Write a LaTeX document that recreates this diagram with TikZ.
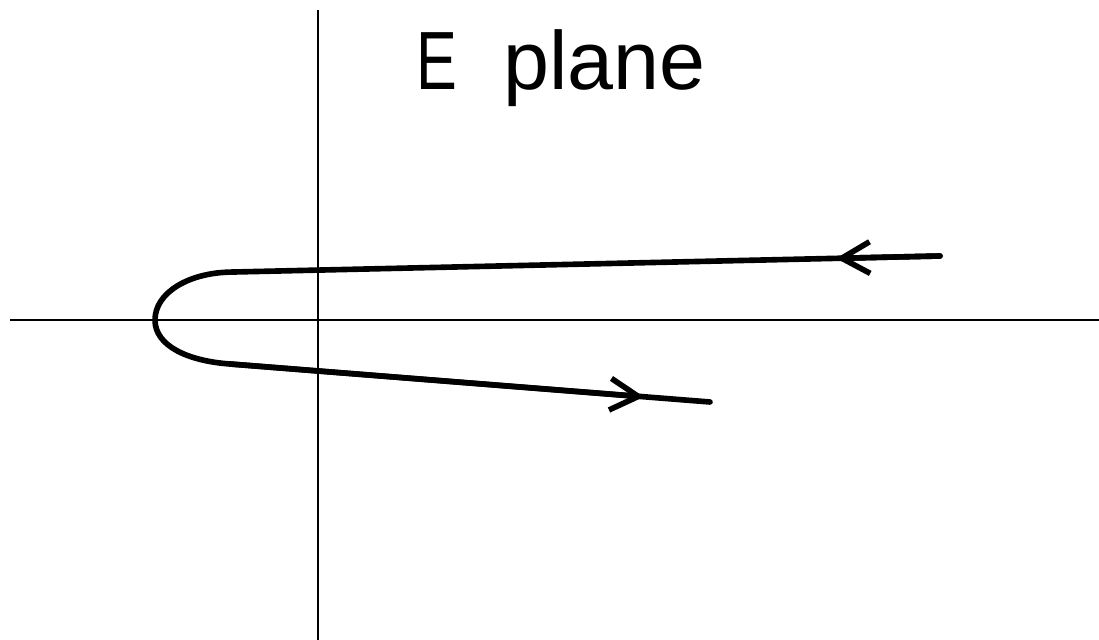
\documentclass[tikz,border=0pt]{standalone}
\usepackage{fontspec}
\setmainfont{Liberation Sans}
\usetikzlibrary{arrows.meta}
\tikzset{
  axis/.style={line width=0.6pt},
  contour/.style={line width=1.6pt, line cap=round, line join=round},
  barbtip/.style={-{Straight Barb[length=8pt,width=9pt,line width=1.6pt]}},
}
\begin{document}
\begin{tikzpicture}[x=0.01cm,y=-0.01cm]
\useasboundingbox (0,0) rectangle (1099,640);
% axes
\coordinate (xl) at (10,320);
\coordinate (xr) at (1099,320);
\coordinate (yt) at (318,10);
\coordinate (yb) at (318,640);
\draw[axis] (xl) -- (xr);
\draw[axis] (yt) -- (yb);
% label
\node[font=\fontsize{23.5}{27}\selectfont, anchor=base west, inner sep=0pt] (lbl) at (416,90) {\scalebox{0.74}[1]{E}\hspace{13pt}plane};
% contour
\coordinate (s) at (940,256);
\coordinate (a1) at (836,258.36);
\coordinate (t) at (230,272.1);
\coordinate (v) at (155,320);
\coordinate (b) at (230,364);
\coordinate (a2) at (644,396.9);
\coordinate (e) at (710,402);
\draw[contour] (s) -- (t) .. controls (188,273) and (155,293) .. (v)
  .. controls (155,346) and (188,361) .. (b) -- (e);
\draw[contour, barbtip] (s) -- (a1);
\draw[contour, barbtip] (b) -- (a2);
\end{tikzpicture}
\end{document}
